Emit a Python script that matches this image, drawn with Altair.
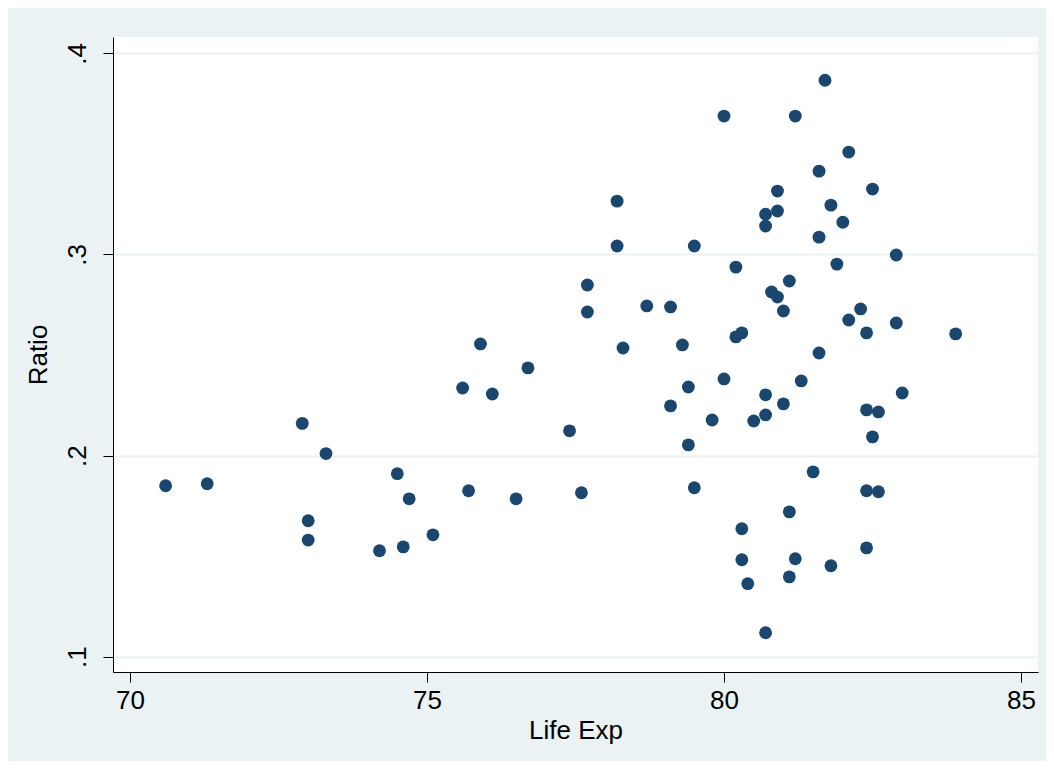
import altair as alt
import pandas as pd

life_exp = [70.6, 71.3, 72.9, 73.0, 73.0, 73.3, 74.2, 74.5, 74.6, 74.7,
            75.1, 75.6, 75.7, 75.9, 76.1, 76.5, 76.7, 77.4, 77.6, 77.7,
            77.7, 78.2, 78.2, 78.3, 78.7, 79.1, 79.1, 79.3, 79.4, 79.4,
            79.5, 79.5, 79.8, 80.0, 80.0, 80.2, 80.2, 80.3, 80.3, 80.3,
            80.4, 80.5, 80.7, 80.7, 80.7, 80.7, 80.7, 80.8, 80.9, 80.9,
            80.9, 81.0, 81.0, 81.1, 81.1, 81.1, 81.2, 81.2, 81.3, 81.5,
            81.6, 81.6, 81.6, 81.7, 81.8, 81.8, 81.9, 82.0, 82.1, 82.1,
            82.3, 82.4, 82.4, 82.4, 82.4, 82.5, 82.5, 82.6, 82.6, 82.9,
            82.9, 83.0, 83.9]
ratio = [0.185, 0.186, 0.216, 0.1676, 0.158, 0.201, 0.1527, 0.191, 0.1546, 0.1785,
         0.1606, 0.2336, 0.1825, 0.2555, 0.2306, 0.1785, 0.2436, 0.2123, 0.1815, 0.2848,
         0.2714, 0.3265, 0.3042, 0.2535, 0.2744, 0.2739, 0.2247, 0.255, 0.2341, 0.2053,
         0.3042, 0.184, 0.2177, 0.3688, 0.2381, 0.2937, 0.259, 0.261, 0.1636, 0.1482,
         0.1363, 0.2172, 0.320, 0.3141, 0.2302, 0.2202, 0.1119, 0.2813, 0.3315, 0.3216,
         0.2788, 0.2719, 0.2257, 0.2868, 0.172, 0.1397, 0.3688, 0.1487, 0.2371, 0.1919,
         0.3414, 0.3086, 0.251, 0.3866, 0.3245, 0.1452, 0.2952, 0.316, 0.3509, 0.2674,
         0.2729, 0.261, 0.2227, 0.1825, 0.1541, 0.3325, 0.2093, 0.2217, 0.182, 0.2997,
         0.2659, 0.2311, 0.2605]

x_ticks = [70, 75, 80, 85]
y_ticks = [0.1, 0.2, 0.3, 0.4]

df = pd.DataFrame({"life_exp": life_exp, "ratio": ratio})

FONT = "Liberation Sans"
BG = "#EAF2F3"

chart = alt.Chart(df).mark_circle(size=165, opacity=1, color="#1A476F").encode(
    x=alt.X("life_exp:Q", title="Life Exp",
            scale=alt.Scale(domain=[69.714, 85.286], nice=False, zero=False),
            axis=alt.Axis(values=x_ticks, grid=False, tickSize=10, tickColor="black",
                          domainColor="black", domainWidth=1, tickWidth=1,
                          labelFontSize=26, titleFontSize=26, labelFont=FONT, titleFont=FONT,
                          labelColor="black", titleColor="black", labelPadding=5,
                          titlePadding=4, labelFlush=False, labelOverlap=False,
                          titleFontWeight="normal")),
    y=alt.Y("ratio:Q", title="Ratio",
            scale=alt.Scale(domain=[0.0924, 0.4081], nice=False, zero=False),
            axis=alt.Axis(values=y_ticks, grid=True, gridColor=BG, gridWidth=2,
                          tickSize=10, tickColor="black", domainColor="black", domainWidth=1,
                          tickWidth=1, labelFontSize=26, titleFontSize=26,
                          labelFont=FONT, titleFont=FONT, labelColor="black", titleColor="black",
                          labelAngle=270, labelAlign="center", labelBaseline="alphabetic",
                          labelPadding=18, titlePadding=13, labelFlush=False, labelOverlap=False,
                          labelExpr="substring(format(datum.value, '.1f'), 1)",
                          titleFontWeight="normal")),
).properties(
    width=925, height=635,
    autosize=alt.AutoSizeParams(type="none"),
    padding={"left": 105, "top": 29, "right": 8, "bottom": 89},
    background=BG,
).configure_view(fill="white", strokeWidth=0)

chart.save("out.html", embed_options={"renderer": "svg", "actions": False})
